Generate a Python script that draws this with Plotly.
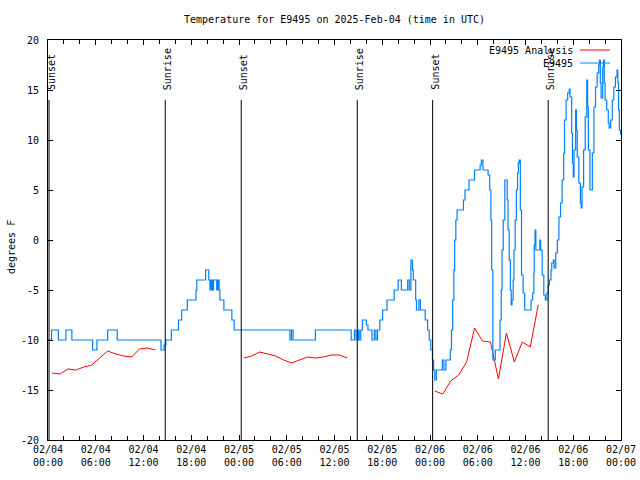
import pandas as pd
import plotly.graph_objects as go

BASE = pd.Timestamp("2025-02-04 00:00")

# ---- Observed temperature (E9495), hours after 02/04 00:00 UTC, deg F ----
obs_hours = [
    0.0, 0.45, 1.3, 2.25, 3.0, 5.6, 6.15, 7.5, 8.7, 14.2, 14.6, 14.8, 15.5, 16.4, 16.8,
    17.5, 18.6, 18.7, 19.8, 20.2, 20.35, 20.5, 20.65, 20.8, 21.2, 21.35, 21.5,
    21.6, 22.1, 23.1, 23.4,
    30.4, 30.6, 30.8, 33.6, 38.1, 38.5, 38.7, 38.95, 39.1, 39.3, 39.5, 40.0,
    40.2, 40.7, 41.0, 41.2, 41.4, 41.7, 42.05, 42.6, 43.5, 44.0, 44.4, 45.2,
    45.4, 45.6, 45.8, 45.9, 46.2, 46.3, 46.6, 46.8, 47.4, 47.7, 47.9, 48.1,
    48.3, 48.45, 48.6, 48.8, 49.55, 49.75, 50.0, 50.55, 50.7, 50.85, 51.0,
    51.1, 51.25, 51.4, 52.2, 52.4, 52.9, 53.6, 54.3, 54.45, 54.65, 55.3, 55.5,
    55.65, 55.75, 55.9, 56.2, 56.8, 56.95, 57.05, 57.2, 57.4, 57.7, 57.8,
    57.95, 58.1, 58.2, 58.3, 58.45, 58.55, 58.7, 58.85, 59.0, 59.1, 59.2,
    59.35, 59.5, 59.7, 59.9, 60.5, 60.7, 60.9, 61.05, 61.1, 61.2, 61.3, 61.6,
    61.8, 61.9, 62.1, 62.3, 62.5, 62.7, 62.85, 63.0, 63.2, 63.3, 63.5, 63.6,
    63.8, 64.0, 64.2, 64.4, 64.6, 64.8, 64.9, 65.1, 65.3, 65.5, 65.6, 65.8,
    65.9, 66.0, 66.1, 66.3, 66.4, 66.5, 66.7, 66.9, 67.0, 67.1, 67.3, 67.5,
    67.7, 67.8, 67.9, 68.1, 68.3, 68.4, 68.6, 68.8, 69.0, 69.2, 69.3, 69.4,
    69.5, 69.7, 69.8, 69.9, 70.0, 70.2, 70.4, 70.5, 70.7, 70.9, 71.1, 71.3,
    71.5, 71.6, 71.7, 71.8, 71.95,
]
obs_temps = [
    -10, -9, -10, -9, -10, -11, -10, -9, -10, -11, -10.5, -10, -9, -8, -7,
    -6, -5, -4, -3, -4, -5, -4, -5, -4, -5, -4, -5,
    -6, -7, -8, -9,
    -10, -9, -10, -9, -10, -9, -10, -9, -10, -9, -8, -8.5,
    -9, -10, -9, -10, -9, -8, -7, -6, -5, -4, -5, -4,
    -5, -2, -3, -4, -6, -7, -6, -7, -8, -9, -10, -11,
    -12, -13, -14, -13, -12, -13, -12, -11, -9, -6, -3,
    0, 2, 3, 4, 5, 6, 7, 7.5, 8, 7, 6.5, 5,
    2, -3, -12, -11, -8, -5, -1, 2, 6, 4, 1,
    -2, -5, -6.5, -6, -4, -1, 2, 5, 6.7, 7.7, 8,
    3, -3.5, -5.3, -7, -7, -6, -5.3, -3.3, -0.5, 1, -1, -1,
    0, -1, -3.5, -5.5, -6, -5.3, -4.5, -4, -3, -2.3, -2, -2.8,
    -1.3, 0, 2.3, 3.7, 6, 8.7, 12, 14, 14.7, 15.1, 14.3, 10.7,
    7.7, 6.3, 9, 13, 11, 8.3, 5.7, 3.7, 3.2, 5.3, 9, 12.3,
    16, 13.3, 9, 5, 5, 8.7, 13.3, 15.3, 16.7, 17.5, 18, 15.7,
    14.2, 17.3, 18, 15.7, 14, 13, 11.7, 11.2, 12, 14, 15.3, 16.3,
    17, 15.7, 13, 11, 10.5,
]

# ---- Analysis (hourly), three segments separated by gaps ----
ana_hours = [
    0.5, 1.5, 2.5, 3.5, 4.5, 5.5, 6.5, 7.5, 8.5, 9.5, 10.5, 11.5, 12.5, 13.5,
    None,
    24.6, 25.6, 26.6, 27.6, 28.6, 29.6, 30.6, 31.6, 32.6, 33.6, 34.6, 35.6, 36.6, 37.6,
    None,
    48.6, 49.6, 50.6, 51.6, 52.6, 53.6, 54.6, 55.6, 56.6, 57.6, 58.6, 59.6, 60.6, 61.6,
]
ana_temps = [
    -13.3, -13.4, -12.9, -13.0, -12.7, -12.5, -11.8, -11.1, -11.4, -11.6, -11.7, -10.9, -10.8, -11.0,
    None,
    -11.8, -11.6, -11.2, -11.4, -11.6, -12.0, -12.3, -12.0, -11.7, -11.8, -11.7, -11.5, -11.5, -11.8,
    None,
    -15.1, -15.4, -14.1, -13.5, -12.2, -8.8, -10.1, -10.2, -13.9, -9.3, -12.2, -10.2, -10.7, -6.5,
]

# ---- Sunrise / sunset events ----
event_hours = [0.13, 14.73, 24.28, 38.86, 48.33, 62.85]
event_labels = ["Sunset", "Sunrise", "Sunset", "Sunrise", "Sunset", "Sunrise"]

y_ticks = [-20, -15, -10, -5, 0, 5, 10, 15, 20]
y_tick_text = ["-20", "-15", "-10", "-5", "0", "5", "10", "15", "20"]

legend_names = ["E9495 Analysis", "E9495"]
RED = "#ff0000"
BLUE = "#0080ff"
FONT = "DejaVu Sans Mono"


def to_time(hours):
    return [None if h is None else BASE + pd.Timedelta(hours=h) for h in hours]


fig = go.Figure()
fig.add_trace(go.Scatter(
    x=to_time(ana_hours), y=ana_temps, mode="lines", name=legend_names[0],
    line=dict(color=RED, width=1), connectgaps=False, showlegend=False,
))
fig.add_trace(go.Scatter(
    x=to_time(obs_hours), y=obs_temps, mode="lines", name=legend_names[1],
    line=dict(color=BLUE, width=1.2, shape="hv"), showlegend=False,
))

shapes = []
annotations = []
for h, lab in zip(event_hours, event_labels):
    t = BASE + pd.Timedelta(hours=h)
    shapes.append(dict(type="line", xref="x", yref="y", x0=t, x1=t, y0=-20, y1=14,
                       line=dict(color="black", width=1)))
    annotations.append(dict(x=t, y=14.8, xref="x", yref="y", text=lab, textangle=-90,
                            showarrow=False, xanchor="center", yanchor="bottom",
                            xshift=2, font=dict(family=FONT, size=10, color="black")))

# manual gnuplot-style legend (text left of sample line)
PLOT_L, PLOT_R, PLOT_T, PLOT_B = 48, 621, 40, 440


def px(xp):
    return (xp - PLOT_L) / (PLOT_R - PLOT_L)


def py(yp):
    return (PLOT_B - yp) / (PLOT_B - PLOT_T)


for name, col, ypix in [(legend_names[0], RED, 50), (legend_names[1], BLUE, 63)]:
    shapes.append(dict(type="line", xref="paper", yref="paper", x0=px(580), x1=px(610),
                       y0=py(ypix), y1=py(ypix), line=dict(color=col, width=1)))
    annotations.append(dict(x=px(575), y=py(ypix), xref="paper", yref="paper", text=name,
                            showarrow=False, xanchor="right", yanchor="middle",
                            font=dict(family=FONT, size=10, color="black")))

annotations.append(dict(x=px(11), y=py(247), xref="paper", yref="paper", text="degrees F",
                        textangle=-90, showarrow=False, xanchor="center", yanchor="middle",
                        font=dict(family=FONT, size=10, color="black")))

fig.update_layout(
    width=640, height=480,
    margin=dict(l=PLOT_L, r=640 - PLOT_R, t=PLOT_T, b=480 - PLOT_B, pad=0, autoexpand=False),
    paper_bgcolor="white", plot_bgcolor="white",
    font=dict(family=FONT, size=10, color="black"),
    title=dict(text="Temperature for E9495 on 2025-Feb-04 (time in UTC)",
               x=0.5, xref="paper", xanchor="center",
               y=1 - 19 / 480, yref="container", yanchor="middle",
               font=dict(family=FONT, size=10, color="black")),
    shapes=shapes, annotations=annotations, showlegend=False,
)
fig.update_xaxes(
    type="date", range=[BASE, BASE + pd.Timedelta(hours=72)], automargin=False,
    dtick=6 * 3600 * 1000, tick0=BASE, tickformat="%m/%d\n%H:%M",
    ticks="inside", ticklen=5, tickcolor="black", showgrid=False, zeroline=False,
    showline=True, linecolor="black", linewidth=1, mirror="ticks",
    minor=dict(dtick=2 * 3600 * 1000, ticks="inside", ticklen=4, tickcolor="black", showgrid=False),
    tickfont=dict(family=FONT, size=10, color="black"),
)
fig.update_yaxes(
    range=[-20, 20], tickvals=y_ticks, ticktext=y_tick_text, automargin=False,
    ticks="inside", ticklen=5, tickcolor="black", showgrid=False, zeroline=False,
    showline=True, linecolor="black", linewidth=1, mirror="ticks",
    ticklabelstandoff=6,
    tickfont=dict(family=FONT, size=10, color="black"),
)

fig.write_html("out.html", config={"displayModeBar": False},
               post_script="document.body.style.margin='0';")
